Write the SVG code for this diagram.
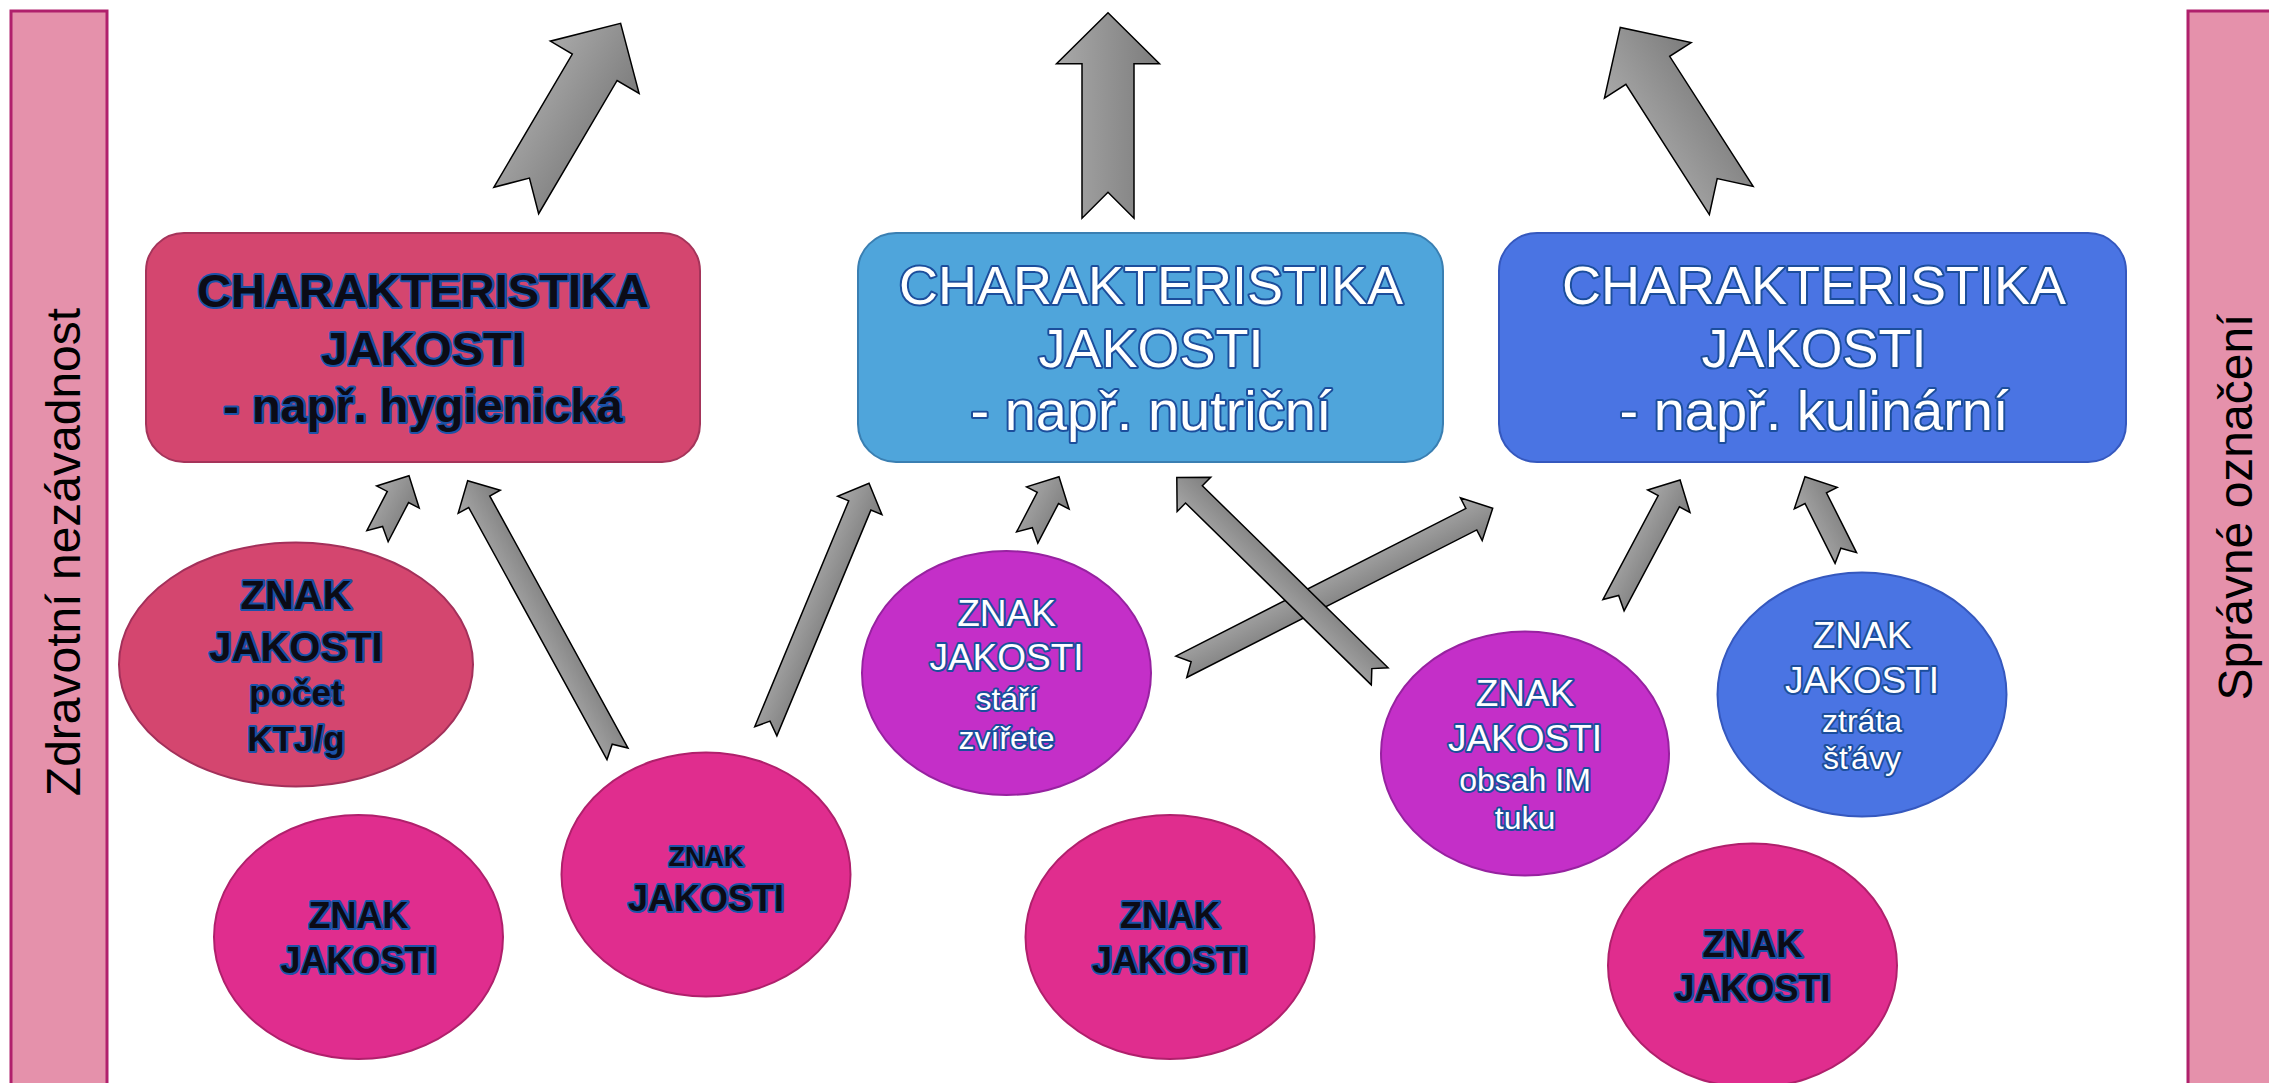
<svg xmlns="http://www.w3.org/2000/svg" width="2269" height="1083" viewBox="0 0 2269 1083">
<defs>
<linearGradient id="gA" x1="0" y1="0" x2="0" y2="1">
<stop offset="0" stop-color="#a9a9a9"/>
<stop offset="1" stop-color="#7c7c7c"/>
</linearGradient>
<style>
.bar{fill:#E591AB;stroke:#B0206C;stroke-width:3}
.arrow{fill:url(#gA);stroke:#000;stroke-width:1.5;stroke-linejoin:miter}
.bt{font-family:"Liberation Sans",Arial,sans-serif;font-size:48px;fill:#000;text-anchor:middle}
.tw{font-family:"Liberation Sans",Arial,sans-serif;fill:#fff;stroke:#1C4E9C;stroke-width:4;paint-order:stroke;stroke-linejoin:round;text-anchor:middle}
.tk{font-family:"Liberation Sans",Arial,sans-serif;font-weight:bold;fill:#0b0b16;stroke:#1B52A8;stroke-width:4;paint-order:stroke;stroke-linejoin:round;text-anchor:middle}
.pinkbox{fill:#D4466F;stroke:#A5345A;stroke-width:2}
.lbbox{fill:#4FA5DB;stroke:#3A7FB2;stroke-width:2}
.dbbox{fill:#4A74E3;stroke:#3558BE;stroke-width:2}
.eA{fill:#D4466F;stroke:#A3305A;stroke-width:2}
.eP{fill:#E02D8E;stroke:#B0206C;stroke-width:2}
.eV{fill:#C42FC8;stroke:#9722A0;stroke-width:2}
.eB{fill:#4A74E3;stroke:#3558BE;stroke-width:2}
</style>
</defs>
<rect width="2269" height="1083" fill="#fff"/>

<g id="bar-left">
<rect class="bar" x="11" y="11" width="96" height="1100"/>
<text class="bt" transform="translate(80,552) rotate(-90)">Zdravotní nezávadnost</text>
</g>
<g id="bar-right">
<rect class="bar" x="2188" y="11" width="110" height="1100"/>
<text class="bt" transform="translate(2252,507) rotate(-90)">Správné označení</text>
</g>

<g id="connectors">
<polygon class="arrow" transform="translate(516.25,200.5) rotate(-59.5)" points="0,-26 154.6,-26 154.6,-51.5 205.6,0 154.6,51.5 154.6,26 0,26 26,0"/>
<polygon class="arrow" transform="translate(1108,218.3) rotate(-90)" points="0,-26 154.6,-26 154.6,-51.5 205.6,0 154.6,51.5 154.6,26 0,26 26,0"/>
<polygon class="arrow" transform="translate(1731.25,200.5) rotate(-122.67)" points="0,-26 154.6,-26 154.6,-51.5 205.6,0 154.6,51.5 154.6,26 0,26 26,0"/>
<polygon class="arrow" transform="translate(377.5,536.2) rotate(-62.5)" points="0,-12 44.2,-12 44.2,-24 68.2,0 44.2,24 44.2,12 0,12 11,0"/>
<polygon class="arrow" transform="translate(617.5,753.8) rotate(-118.75)" points="0,-12 287.5,-12 287.5,-24 311.5,0 287.5,24 287.5,12 0,12 11,0"/>
<polygon class="arrow" transform="translate(765.8,731.3) rotate(-67.4)" points="0,-12 244.6,-12 244.6,-24 268.6,0 244.6,24 244.6,12 0,12 11,0"/>
<polygon class="arrow" transform="translate(1027.2,537.5) rotate(-62.4)" points="0,-12 44.6,-12 44.6,-24 68.6,0 44.6,24 44.6,12 0,12 11,0"/>
<polygon class="arrow" transform="translate(1181.3,666.8) rotate(-26.97)" points="0,-12 325.4,-12 325.4,-24 349.4,0 325.4,24 325.4,12 0,12 11,0"/>
<polygon class="arrow" transform="translate(1379.7,676.3) rotate(-135.6)" points="0,-12 260,-12 260,-24 284,0 260,24 260,12 0,12 11,0"/>
<polygon class="arrow" transform="translate(1613.5,605.2) rotate(-62)" points="0,-12 117.8,-12 117.8,-24 141.8,0 117.8,24 117.8,12 0,12 11,0"/>
<polygon class="arrow" transform="translate(1845.8,558) rotate(-116.65)" points="0,-12 67,-12 67,-24 91,0 67,24 67,12 0,12 11,0"/>
</g>

<g id="box-hygienicka">
<rect class="pinkbox" x="146" y="233" width="554" height="229" rx="38"/>
<text class="tk" x="423" y="307" font-size="47">CHARAKTERISTIKA</text>
<text class="tk" x="423" y="365" font-size="47">JAKOSTI</text>
<text class="tk" x="423" y="422" font-size="47">- např. hygienická</text>
</g>
<g id="box-nutricni">
<rect class="lbbox" x="858" y="233" width="585" height="229" rx="38"/>
<text class="tw" x="1151" y="304" font-size="54">CHARAKTERISTIKA</text>
<text class="tw" x="1151" y="367" font-size="54">JAKOSTI</text>
<text class="tw" x="1151" y="430" font-size="56">- např. nutriční</text>
</g>
<g id="box-kulinarni">
<rect class="dbbox" x="1499" y="233" width="627" height="229" rx="38"/>
<text class="tw" x="1814" y="304" font-size="54">CHARAKTERISTIKA</text>
<text class="tw" x="1814" y="367" font-size="54">JAKOSTI</text>
<text class="tw" x="1814" y="430" font-size="56">- např. kulinární</text>
</g>

<g id="znak-ktj">
<ellipse class="eA" cx="296" cy="664.5" rx="177" ry="122"/>
<text class="tk" x="296" y="609" font-size="40">ZNAK</text>
<text class="tk" x="296" y="661" font-size="40">JAKOSTI</text>
<text class="tk" x="296" y="705" font-size="35">počet</text>
<text class="tk" x="296" y="751" font-size="35">KTJ/g</text>
</g>
<g id="znak-b">
<ellipse class="eP" cx="358.5" cy="937" rx="144.5" ry="122"/>
<text class="tk" x="358.5" y="928" font-size="36">ZNAK</text>
<text class="tk" x="358.5" y="973" font-size="36">JAKOSTI</text>
</g>
<g id="znak-c">
<ellipse class="eP" cx="706" cy="874.5" rx="144.5" ry="122"/>
<text class="tk" x="706" y="866" font-size="27">ZNAK</text>
<text class="tk" x="706" y="911" font-size="36">JAKOSTI</text>
</g>
<g id="znak-stari">
<ellipse class="eV" cx="1006.5" cy="673" rx="144.5" ry="122"/>
<text class="tw" x="1006.5" y="626" font-size="37">ZNAK</text>
<text class="tw" x="1006.5" y="670" font-size="37">JAKOSTI</text>
<text class="tw" x="1006.5" y="710" font-size="32">stáří</text>
<text class="tw" x="1006.5" y="748.5" font-size="32">zvířete</text>
</g>
<g id="znak-e">
<ellipse class="eP" cx="1170" cy="937" rx="144.5" ry="122"/>
<text class="tk" x="1170" y="928" font-size="36">ZNAK</text>
<text class="tk" x="1170" y="973" font-size="36">JAKOSTI</text>
</g>
<g id="znak-tuk">
<ellipse class="eV" cx="1525" cy="753.5" rx="144" ry="122"/>
<text class="tw" x="1525" y="706" font-size="37">ZNAK</text>
<text class="tw" x="1525" y="750.5" font-size="37">JAKOSTI</text>
<text class="tw" x="1525" y="791" font-size="32">obsah IM</text>
<text class="tw" x="1525" y="829" font-size="32">tuku</text>
</g>
<g id="znak-stava">
<ellipse class="eB" cx="1862" cy="694.5" rx="144.5" ry="122"/>
<text class="tw" x="1862" y="648" font-size="37">ZNAK</text>
<text class="tw" x="1862" y="692.5" font-size="37">JAKOSTI</text>
<text class="tw" x="1862" y="732" font-size="32">ztráta</text>
<text class="tw" x="1862" y="768.5" font-size="32">šťávy</text>
</g>
<g id="znak-h">
<ellipse class="eP" cx="1752.5" cy="965.5" rx="144.5" ry="122"/>
<text class="tk" x="1752.5" y="957" font-size="36">ZNAK</text>
<text class="tk" x="1752.5" y="1001" font-size="36">JAKOSTI</text>
</g>
</svg>
